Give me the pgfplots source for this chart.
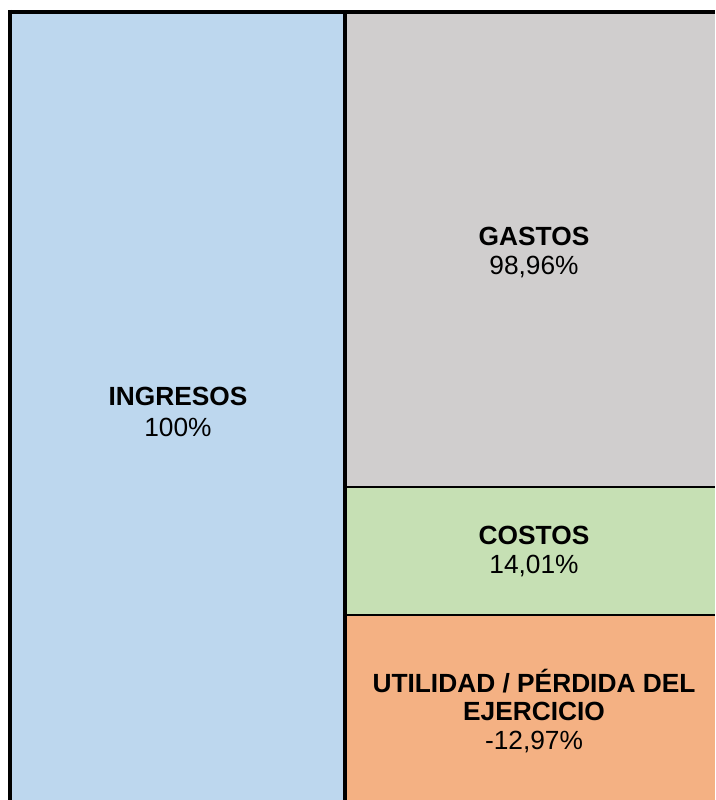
\documentclass[border=0pt]{standalone}
\usepackage{pgfplots}
\pgfplotsset{compat=1.18}
\usepackage{fontspec}
\setmainfont{Liberation Sans}
\definecolor{cblue}{RGB}{189,215,238}
\definecolor{cgray}{RGB}{208,206,206}
\definecolor{cgreen}{RGB}{198,224,180}
\definecolor{corange}{RGB}{244,177,131}
\begin{document}
\begin{tikzpicture}
\begin{axis}[name=ax,
  width=715bp, height=800bp, scale only axis, hide axis,
  xmin=0, xmax=715, ymin=0, ymax=800, y dir=reverse,
  clip=true,
]
\addplot[fill=cblue, draw=none] coordinates {(10,12) (345,12) (345,800) (10,800)} -- cycle;
\addplot[fill=cgray, draw=none] coordinates {(345,12) (715,12) (715,487) (345,487)} -- cycle;
\addplot[fill=cgreen, draw=none] coordinates {(345,487) (715,487) (715,615) (345,615)} -- cycle;
\addplot[fill=corange, draw=none] coordinates {(345,615) (715,615) (715,800) (345,800)} -- cycle;
% borders
\addplot[black, line width=4bp] coordinates {(8,12) (715,12)};
\addplot[black, line width=4bp] coordinates {(10,10) (10,800)};
\addplot[black, line width=4bp] coordinates {(345,12) (345,800)};
\addplot[black, line width=2bp] coordinates {(345,487) (715,487)};
\addplot[black, line width=2bp] coordinates {(345,615) (715,615)};
% labels
\node[font=\fontsize{26.3bp}{31bp}\selectfont\bfseries] at (axis cs:178,396) {INGRESOS};
\node[font=\fontsize{26.3bp}{31bp}\selectfont] at (axis cs:178,427) {100\%};
\node[font=\fontsize{26.3bp}{31bp}\selectfont\bfseries] at (axis cs:534,236) {GASTOS};
\node[font=\fontsize{26.3bp}{31bp}\selectfont] at (axis cs:534,267) {98,96\%};
\node[font=\fontsize{26.3bp}{31bp}\selectfont\bfseries] at (axis cs:534,535) {COSTOS};
\node[font=\fontsize{26.3bp}{31bp}\selectfont] at (axis cs:534,566) {14,01\%};
\node[font=\fontsize{26.3bp}{31bp}\selectfont\bfseries] at (axis cs:534,681) {UTILIDAD / PÉRDIDA DEL};
\node[font=\fontsize{26.3bp}{31bp}\selectfont\bfseries] at (axis cs:534,711) {EJERCICIO};
\node[font=\fontsize{26.3bp}{31bp}\selectfont] at (axis cs:534,742) {-12,97\%};
\end{axis}
\pgfresetboundingbox
\path (ax.south west) rectangle (ax.north east);
\end{tikzpicture}
\end{document}
